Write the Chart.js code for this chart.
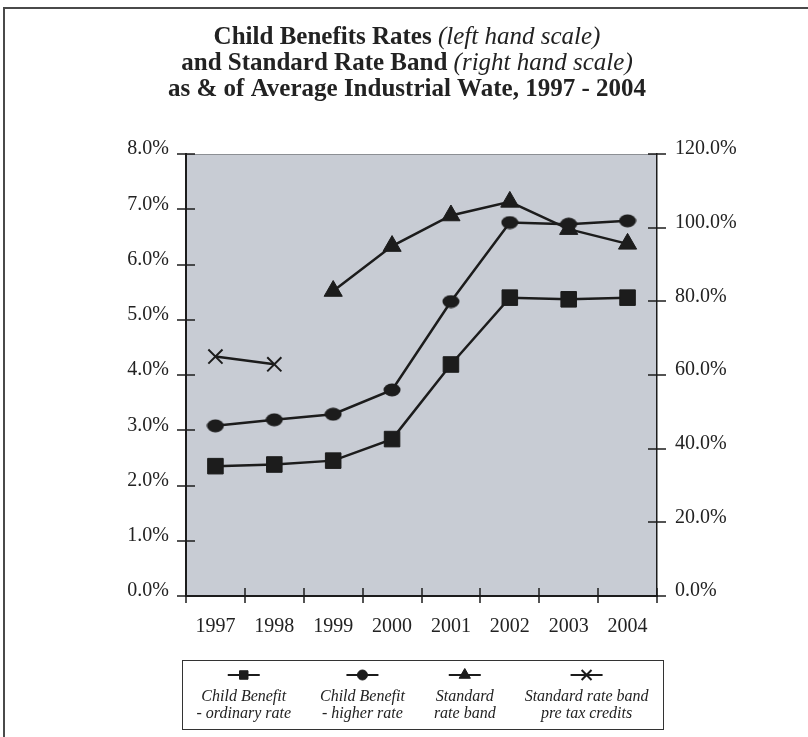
<!DOCTYPE html>
<html>
<head>
<meta charset="utf-8">
<title>Child Benefits Rates and Standard Rate Band</title>
<script src="https://cdn.jsdelivr.net/npm/chart.js@4.4.1/dist/chart.umd.min.js"></script>
<style>
  html, body { margin: 0; padding: 0; background: #fff; }
  #chart { display: block; }
</style>
</head>
<body>
<canvas id="chart" width="808" height="737"></canvas>
<script>
"use strict";

// values, in percent
const YEARS = ["1997", "1998", "1999", "2000", "2001", "2002", "2003", "2004"];
const ORDINARY_RATE = [2.35, 2.38, 2.45, 2.84, 4.19, 5.40, 5.37, 5.40];
const HIGHER_RATE = [3.08, 3.19, 3.29, 3.73, 5.33, 6.76, 6.73, 6.79];
const STANDARD_BAND = [null, null, 82.8, 95.0, 103.3, 107.0, 99.6, 95.6];
const PRE_CREDITS_BAND = [65.0, 62.9, null, null, null, null, null, null];

const LEFT_MAX = 8;
const LEFT_STEP = 1;
const RIGHT_MAX = 120;
const RIGHT_STEP = 20;

const LEGEND_LABELS = [
  ["Child Benefit", "- ordinary rate"],
  ["Child Benefit", "- higher rate"],
  ["Standard", "rate band"],
  ["Standard rate band", "pre tax credits"],
];

const TITLE_LINES = [
  [["Child Benefits Rates ", "b"], ["(left hand scale)", "i"]],
  [["and Standard Rate Band ", "b"], ["(right hand scale)", "i"]],
  [["as & of Average Industrial Wate, 1997 - 2004", "b"]],
];

const SERIF = '"Liberation Serif", "DejaVu Serif", serif';
const INK = "#1c1c1c";
const TEXT = "#222";
const PLOT_BG = "#c8ccd4";

function ellipseMarker(w, h) {
  const c = document.createElement("canvas");
  c.width = w;
  c.height = h;
  const g = c.getContext("2d");
  g.fillStyle = INK;
  g.beginPath();
  g.ellipse(w / 2, h / 2, w / 2 - 0.5, h / 2 - 0.5, 0, 0, Math.PI * 2);
  g.fill();
  return c;
}

const pct = (v) => `${Number(v).toFixed(1)}%`;

function drawTitle(ctx) {
  ctx.fillStyle = TEXT;
  ctx.textBaseline = "alphabetic";
  ctx.textAlign = "left";
  TITLE_LINES.forEach((segs, i) => {
    const fonts = segs.map((s) => `${s[1] === "i" ? "italic" : "bold"} 25px ${SERIF}`);
    let total = 0;
    segs.forEach((s, j) => {
      ctx.font = fonts[j];
      total += ctx.measureText(s[0]).width;
    });
    let x = 407 - total / 2;
    const y = 44 + i * 26;
    segs.forEach((s, j) => {
      ctx.font = fonts[j];
      ctx.fillText(s[0], x, y);
      x += ctx.measureText(s[0]).width;
    });
  });
}

function drawLegend(chart) {
  const { ctx, chartArea: a } = chart;
  const box = { left: a.left - 4, right: a.right + 6, top: 660, bottom: 729 };
  ctx.strokeStyle = "#333";
  ctx.lineWidth = 1;
  ctx.strokeRect(box.left + 0.5, box.top + 0.5, box.right - box.left, box.bottom - box.top);

  ctx.font = `italic 16px ${SERIF}`;
  const widths = LEGEND_LABELS.map((lines) =>
    Math.max(...lines.map((t) => ctx.measureText(t).width))
  );
  const gap = 29;
  const total = widths.reduce((s, w) => s + w, 0) + gap * (widths.length - 1);
  let x = (box.left + box.right) / 2 - total / 2;
  const markY = 675;

  chart.data.datasets.forEach((ds, i) => {
    const cx = x + widths[i] / 2;
    ctx.strokeStyle = INK;
    ctx.fillStyle = INK;
    ctx.lineWidth = 2;
    ctx.beginPath();
    ctx.moveTo(cx - 16, markY);
    ctx.lineTo(cx + 16, markY);
    ctx.stroke();
    ctx.lineWidth = ds.pointBorderWidth;
    Chart.helpers.drawPoint(
      ctx,
      { pointStyle: ds.legendStyle, radius: ds.legendRadius, borderWidth: ds.pointBorderWidth, rotation: 0 },
      cx,
      markY
    );

    ctx.fillStyle = TEXT;
    ctx.font = `italic 16px ${SERIF}`;
    ctx.textAlign = "center";
    ctx.textBaseline = "middle";
    LEGEND_LABELS[i].forEach((line, k) => ctx.fillText(line, cx, 697 + k * 17));
    x += widths[i] + gap;
  });
}

const paperPlugin = {
  id: "paper",
  beforeDraw(chart) {
    const { ctx, chartArea: a } = chart;
    ctx.save();
    ctx.fillStyle = "#fff";
    ctx.fillRect(0, 0, chart.width, chart.height);
    ctx.fillStyle = PLOT_BG;
    ctx.fillRect(a.left, a.top, a.right - a.left, a.bottom - a.top);
    ctx.strokeStyle = "#8c8f94";
    ctx.lineWidth = 1;
    ctx.beginPath();
    ctx.moveTo(a.left, a.top + 0.5);
    ctx.lineTo(a.right, a.top + 0.5);
    ctx.stroke();
    // page frame, top and left only
    ctx.strokeStyle = "#4a4a4a";
    ctx.lineWidth = 2;
    ctx.beginPath();
    ctx.moveTo(4, chart.height);
    ctx.lineTo(4, 8);
    ctx.lineTo(chart.width, 8);
    ctx.stroke();
    ctx.restore();
  },
  beforeDatasetsDraw(chart) {
    // tick marks crossing each axis line
    const { ctx, chartArea: a, scales } = chart;
    ctx.save();
    ctx.strokeStyle = INK;
    ctx.lineWidth = 1.5;
    ctx.beginPath();
    scales.y.ticks.forEach((t) => {
      const y = Math.round(scales.y.getPixelForValue(t.value));
      ctx.moveTo(a.left - 9, y);
      ctx.lineTo(a.left + 9, y);
    });
    scales.y1.ticks.forEach((t) => {
      const y = Math.round(scales.y1.getPixelForValue(t.value));
      ctx.moveTo(a.right - 9, y);
      ctx.lineTo(a.right + 9, y);
    });
    const n = scales.x.ticks.length;
    const w = (a.right - a.left) / n;
    for (let i = 0; i <= n; i++) {
      const x = Math.round(scales.x.getPixelForValue(0) - w / 2 + i * w);
      ctx.moveTo(x, a.bottom - 8);
      ctx.lineTo(x, a.bottom + 7);
    }
    ctx.stroke();
    ctx.restore();
  },
  afterDraw(chart) {
    const ctx = chart.ctx;
    ctx.save();
    drawTitle(ctx);
    drawLegend(chart);
    ctx.restore();
  },
};

const datasets = [
  { data: ORDINARY_RATE, yAxisID: "y", pointStyle: "rect", pointRadius: 11, legendStyle: "rect", legendRadius: 6 },
  { data: HIGHER_RATE, yAxisID: "y", pointStyle: ellipseMarker(18, 14), legendStyle: "circle", legendRadius: 5 },
  { data: STANDARD_BAND, yAxisID: "y1", pointStyle: "triangle", pointRadius: 10.5, legendStyle: "triangle", legendRadius: 6.5 },
  { data: PRE_CREDITS_BAND, yAxisID: "y1", pointStyle: "crossRot", pointRadius: 10, pointBorderWidth: 2, legendStyle: "crossRot", legendRadius: 7 },
].map((ds, i) =>
  Object.assign(
    {
      label: LEGEND_LABELS[i].join(" "),
      borderColor: INK,
      backgroundColor: INK,
      pointBackgroundColor: INK,
      pointBorderColor: INK,
      borderWidth: 2.5,
      pointBorderWidth: 1,
      tension: 0,
      spanGaps: false,
      clip: false,
    },
    ds
  )
);

const tickFont = { family: SERIF, size: 20 };
const noGrid = { display: false, drawTicks: false };

new Chart(document.getElementById("chart"), {
  type: "line",
  data: { labels: YEARS, datasets },
  options: {
    responsive: false,
    animation: false,
    devicePixelRatio: 1,
    layout: { padding: { top: 154, left: 0, right: 0, bottom: 0 } },
    plugins: {
      legend: { display: false },
      title: { display: false },
      tooltip: { enabled: false },
    },
    scales: {
      x: {
        type: "category",
        offset: true,
        grid: noGrid,
        border: { display: true, color: INK, width: 2 },
        ticks: { color: TEXT, font: tickFont, padding: 19, maxRotation: 0 },
        afterFit: (s) => { s.height = 141; },
      },
      y: {
        position: "left",
        min: 0,
        max: LEFT_MAX,
        grid: noGrid,
        border: { display: true, color: INK, width: 2 },
        ticks: { stepSize: LEFT_STEP, color: TEXT, font: tickFont, padding: 17, labelOffset: -5, callback: pct },
        afterFit: (s) => { s.width = 186; },
      },
      y1: {
        position: "right",
        min: 0,
        max: RIGHT_MAX,
        grid: noGrid,
        border: { display: true, color: INK, width: 1.5 },
        ticks: { stepSize: RIGHT_STEP, color: TEXT, font: tickFont, padding: 18, labelOffset: -5, callback: pct },
        afterFit: (s) => { s.width = 151; },
      },
    },
  },
  plugins: [paperPlugin],
});
</script>
</body>
</html>
